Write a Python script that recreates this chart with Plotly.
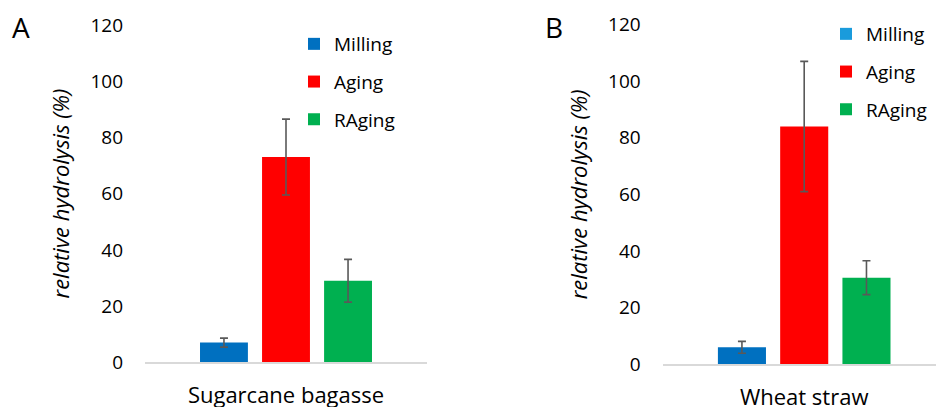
import plotly.graph_objects as go

# ---- data ----
series = ["Milling", "Aging", "RAging"]
colors = ["#0070C0", "#FF0000", "#00B050"]

cat_a = ["Sugarcane bagasse"]
vals_a = [7.0, 73.0, 29.0]
err_a = [1.6, 13.5, 7.6]

cat_b = ["Wheat straw"]
vals_b = [6.0, 84.0, 30.6]
err_b = [2.1, 23.0, 6.0]

y_ticks = [0, 20, 40, 60, 80, 100, 120]
legend_b_milling_color = "#1A9BDC"

FONT = "Open Sans"
W, H = 936, 407

fig = go.Figure()

for i, s in enumerate(series):
    fig.add_trace(go.Bar(
        x=cat_a, y=[vals_a[i]], name=s,
        marker=dict(color=colors[i], line=dict(width=0)),
        error_y=dict(type="data", array=[err_a[i]], color="#595959", thickness=1.6, width=4),
        xaxis="x", yaxis="y", legend="legend", legendgroup="a" + s,
        offsetgroup=s,
    ))

for i, s in enumerate(series):
    show = s != "Milling"
    fig.add_trace(go.Bar(
        x=cat_b, y=[vals_b[i]], name=s,
        marker=dict(color=colors[i], line=dict(width=0)),
        error_y=dict(type="data", array=[err_b[i]], color="#595959", thickness=1.6, width=4),
        xaxis="x2", yaxis="y2", legend="legend2", legendgroup="b" + s,
        offsetgroup=s, showlegend=show,
    ))
    if s == "Milling":
        # legend-only entry (the reference shows a lighter blue swatch)
        fig.add_trace(go.Bar(
            x=cat_b, y=[None], name=s,
            marker=dict(color=legend_b_milling_color, line=dict(width=0)),
            xaxis="x2", yaxis="y2", legend="legend2", legendgroup="b" + s,
            offsetgroup=s, hoverinfo="skip",
        ))

axis_common = dict(
    showgrid=False, zeroline=False, ticks="", automargin=False,
    tickfont=dict(family=FONT, size=22, color="#000000"),
    showline=True, linecolor="#D9D9D9", linewidth=1.5,
    ticklabelstandoff=13, fixedrange=True,
)
yaxis_common = dict(
    range=[0, 120], tickvals=y_ticks, showgrid=False, zeroline=False,
    showline=False, ticks="", automargin=False,
    tickfont=dict(family=FONT, size=19, color="#000000"),
    ticklabelstandoff=21,
    title=dict(text="relative hydrolysis (%)",
               font=dict(family=FONT, size=22, color="#000000", style="italic"),
               standoff=14),
)

leg_common = dict(
    font=dict(family=FONT, size=19, color="#000000"),
    bgcolor="rgba(0,0,0,0)", borderwidth=0,
    tracegroupgap=10, xanchor="left", yanchor="top",
    itemclick=False, itemdoubleclick=False,
)

fig.update_layout(
    width=W, height=H, margin=dict(l=0, r=0, t=0, b=0),
    paper_bgcolor="white", plot_bgcolor="white",
    barmode="group", bargap=0.34, bargroupgap=0.228,
    showlegend=True,
    xaxis=dict(domain=[145 / W, 427 / W], anchor="y", range=[-0.5, 0.5], **axis_common),
    yaxis=dict(domain=[(H - 362.3) / H, (H - 25) / H], anchor="x", **yaxis_common),
    xaxis2=dict(domain=[662.7 / W, 1.0], anchor="y2", range=[-0.5, 0.4657], **axis_common),
    yaxis2=dict(domain=[(H - 364.3) / H, (H - 24.6) / H], anchor="x2", **yaxis_common),
    legend=dict(x=(294) / W, y=1 - 25 / H, **leg_common),
    legend2=dict(x=(826) / W, y=1 - 15 / H, **leg_common),
    annotations=[
        dict(text="A", x=10 / W, y=1 - 27.5 / H, xref="paper", yref="paper",
             xanchor="left", yanchor="middle", showarrow=False,
             font=dict(family=FONT, size=28, color="#000000")),
        dict(text="B", x=543 / W, y=1 - 27.5 / H, xref="paper", yref="paper",
             xanchor="left", yanchor="middle", showarrow=False,
             font=dict(family=FONT, size=28, color="#000000")),
    ],
)

fig.write_html("out.html", config={"displayModeBar": False})
